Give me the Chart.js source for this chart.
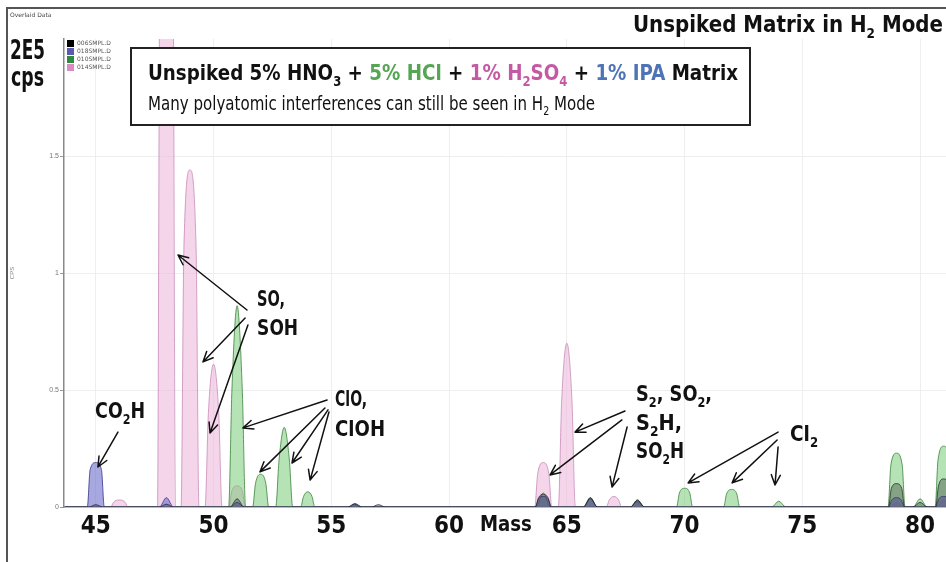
<!DOCTYPE html>
<html><head><meta charset="utf-8">
<script src="https://cdn.jsdelivr.net/npm/chart.js@4/dist/chart.umd.min.js"></script>
<style>html,body{margin:0;padding:0;background:#fff;overflow:hidden}canvas{display:block}</style>
</head><body>
<canvas id="c" width="946" height="562"></canvas>
<script>
// ---------- data (mass in amu, intensity in 1E5 cps) ----------
const seriesLabels = ['006SMPL.D','018SMPL.D','010SMPL.D','014SMPL.D'];
const xTicks = [45,50,55,60,65,70,75,80];
const yTicks = [0,0.5,1,1.5];

const blackMass = [43.7, 44.7,45,45.3, 47.7,48,48.3, 50.7,51,51.3, 55.7,56,56.3, 56.7,57,57.3, 63.66,63.8,64,64.2,64.34, 65.7,66,66.3, 67.7,68,68.3, 78.66,78.78,79,79.22,79.34, 79.7,80,80.3, 80.66,80.78,81,81.22,81.34];
const blackCps  = [0, 0,0.01,0, 0,0.012,0, 0,0.035,0, 0,0.015,0, 0,0.01,0, 0,0.04,0.055,0.04,0, 0,0.04,0, 0,0.03,0, 0,0.08,0.1,0.08,0, 0,0.02,0, 0,0.09,0.12,0.09,0];

const blueMass = [43.7, 44.64,44.76,45,45.24,45.36, 47.7,48,48.3, 50.7,51,51.3, 55.7,56,56.3, 63.66,63.8,64,64.2,64.34, 65.7,66,66.3, 67.7,68,68.3, 78.66,78.8,79,79.2,79.34, 80.66,80.8,81,81.2,81.34];
const blueCps  = [0, 0,0.16,0.19,0.16,0, 0,0.04,0, 0,0.02,0, 0,0.012,0, 0,0.035,0.045,0.035,0, 0,0.035,0, 0,0.025,0, 0,0.03,0.04,0.03,0, 0,0.035,0.045,0.035,0];

const greenMass = [43.7, 50.64,50.78,51,51.22,51.36, 51.66,51.78,52,52.22,52.34, 52.64,52.78,53,53.22,53.36, 53.7,53.82,54,54.18,54.3, 55.8,56,56.2, 63.7,64,64.3, 65.7,66,66.3, 67.7,68,68.3, 69.66,69.78,70,70.22,70.34, 71.66,71.78,72,72.22,72.34, 73.7,74,74.3, 78.64,78.76,79,79.24,79.36, 79.7,80,80.3, 80.64,80.76,81,81.24,81.36];
const greenCps  = [0, 0,0.5,0.86,0.5,0, 0,0.1,0.14,0.1,0, 0,0.2,0.34,0.2,0, 0,0.045,0.065,0.045,0, 0,0.01,0, 0,0.06,0, 0,0.04,0, 0,0.03,0, 0,0.06,0.08,0.06,0, 0,0.055,0.075,0.055,0, 0,0.025,0, 0,0.18,0.23,0.18,0, 0,0.035,0, 0,0.2,0.26,0.2,0];

const pinkMass = [43.7, 45.64,45.75,46,46.25,46.36, 47.62,47.72,48,48.28,48.38, 48.62,48.74,49,49.26,49.38, 49.64,49.78,50,50.22,50.36, 50.66,50.78,51,51.22,51.34, 63.64,63.76,64,64.24,64.36, 64.64,64.78,65,65.22,65.36, 66.68,66.8,67,67.2,67.32, 67.7,68,68.3, 78.7,79,79.3, 80.7,81,81.3];
const pinkCps  = [0, 0,0.02,0.03,0.02,0, 0,2.3,2.6,2.3,0, 0,1.1,1.44,1.1,0, 0,0.4,0.61,0.4,0, 0,0.07,0.09,0.07,0, 0,0.14,0.19,0.14,0, 0,0.45,0.70,0.45,0, 0,0.03,0.045,0.03,0, 0,0.02,0, 0,0.02,0, 0,0.03,0];

// annotation labels (text segments, [text, isSubscript]) anchored in data units
const noteLabels = [
  {segs:[['CO'],['2',1],['H']], m:44.97, c:0.415, w:50},
  {segs:[['SO,']], m:51.85, c:0.893, w:28},
  {segs:[['SOH']], m:51.85, c:0.769, w:41},
  {segs:[['ClO,']], m:55.16, c:0.466, w:32},
  {segs:[['ClOH']], m:55.16, c:0.338, w:50},
  {segs:[['S'],['2',1],[', SO'],['2',1],[',']], m:67.94, c:0.487, w:76},
  {segs:[['S'],['2',1],['H,']], m:67.94, c:0.363, w:46},
  {segs:[['SO'],['2',1],['H']], m:67.94, c:0.244, w:48},
  {segs:[['Cl'],['2',1]], m:74.48, c:0.316, w:28},
  {segs:[['Mass']], m:61.31, c:-0.068, w:52}
];
// arrows: [tailMass, tailCps, headMass, headCps]
const noteArrows = [
  [45.94,0.32,45.09,0.171],
  [51.42,0.842,48.49,1.077],
  [51.34,0.808,49.55,0.62],
  [51.46,0.778,49.85,0.316],
  [54.82,0.457,51.25,0.338],
  [54.73,0.423,51.97,0.15],
  [54.86,0.415,53.33,0.188],
  [54.9,0.406,54.1,0.115],
  [67.47,0.41,65.35,0.32],
  [67.34,0.372,64.29,0.137],
  [67.56,0.342,66.92,0.085],
  [73.97,0.32,70.15,0.103],
  [73.93,0.286,72.02,0.103],
  [73.97,0.256,73.84,0.094]
];

// ---------- styling ----------
const NARROW = "'Liberation Sans Narrow','DejaVu Sans Condensed','Arial Narrow',sans-serif";
const fills   = ['rgba(40,40,40,0.35)','rgba(110,110,205,0.6)','rgba(110,200,110,0.5)','rgba(236,185,220,0.6)'];
const borders = ['rgba(30,30,30,0.7)','rgba(70,70,150,0.9)','rgba(60,130,60,0.8)','rgba(200,140,185,0.8)'];
const swatch  = ['#000000','#5a5ab4','#2e8b3e','#d98cc4'];

function pts(ms, cs){ return ms.map((m,i)=>({x:m, y:cs[i]})); }
const seriesData = [pts(blackMass,blackCps), pts(blueMass,blueCps), pts(greenMass,greenCps), pts(pinkMass,pinkCps)];

function segFont(size, weight, sub){ return `${weight} ${sub ? Math.round(size*0.62) : size}px ${NARROW}`; }
function richWidth(ctx, segs, size, weight){
  let w = 0;
  for (const s of segs){ ctx.font = segFont(size, weight, s[1]); w += ctx.measureText(s[0]).width; }
  return w;
}
function drawRich(ctx, segs, x, baseline, size, weight, targetW, align, defColor){
  const w = richWidth(ctx, segs, size, weight);
  const sx = targetW ? targetW / w : 1;
  ctx.save();
  const sx0 = align === 'right' ? x - w*sx : x;
  ctx.translate(sx0, baseline);
  ctx.scale(sx, 1);
  ctx.textBaseline = 'alphabetic';
  ctx.textAlign = 'left';
  let cx = 0;
  for (const s of segs){
    ctx.font = segFont(size, weight, s[1]);
    ctx.fillStyle = s[2] || defColor || '#111';
    ctx.fillText(s[0], cx, s[1] ? size*0.28 : 0);
    cx += ctx.measureText(s[0]).width;
  }
  ctx.restore();
}
function arrow(ctx, x1, y1, x2, y2){
  const a = Math.atan2(y2-y1, x2-x1), L = 11, h = 0.42;
  ctx.beginPath();
  ctx.moveTo(x1,y1); ctx.lineTo(x2,y2);
  ctx.moveTo(x2 - L*Math.cos(a-h), y2 - L*Math.sin(a-h));
  ctx.lineTo(x2,y2);
  ctx.lineTo(x2 - L*Math.cos(a+h), y2 - L*Math.sin(a+h));
  ctx.stroke();
}

const overlay = {
  id:'overlay',
  afterDraw(chart){
    const ctx = chart.ctx, xs = chart.scales.x, ys = chart.scales.y;
    ctx.save();
    // outer frame
    ctx.strokeStyle = '#555'; ctx.lineWidth = 2;
    ctx.beginPath(); ctx.moveTo(7, 562); ctx.lineTo(7, 8); ctx.lineTo(946, 8); ctx.stroke();
    // small texts
    ctx.fillStyle = '#444'; ctx.font = '6px "DejaVu Sans",sans-serif'; ctx.textBaseline='middle';
    ctx.fillText('Overlaid Data', 10, 15);
    // legend
    seriesLabels.forEach((lab,i)=>{
      const y = 43 + i*8;
      ctx.fillStyle = swatch[i]; ctx.fillRect(67, y-3, 7, 7);
      ctx.fillStyle = '#555'; ctx.font = '6px "DejaVu Sans",sans-serif';
      ctx.fillText(lab, 77, y+0.5);
    });
    // 2E5 / cps
    drawRich(ctx, [['2E5']], 10, 59, 26, 'bold', 35, 'left');
    drawRich(ctx, [['cps']], 11, 86, 26, 'bold', 33, 'left');
    // title
    drawRich(ctx, [['Unspiked Matrix in H'],['2',1],[' Mode']], 943, 32, 23, 'bold', 310, 'right');
    // box
    ctx.fillStyle = '#fff'; ctx.fillRect(131, 48, 619, 77);
    ctx.strokeStyle = '#222'; ctx.lineWidth = 2; ctx.strokeRect(131, 48, 619, 77);
    const G = '#55a555', P = '#c45aa3', B = '#4f74b5';
    drawRich(ctx, [['Unspiked 5% HNO'],['3',1],[' + '],['5% HCl',0,G],[' + '],['1% H',0,P],['2',1,P],['SO',0,P],['4',1,P],[' + '],['1% IPA',0,B],[' Matrix']],
      148, 80, 22, 'bold', 590, 'left');
    drawRich(ctx, [['Many polyatomic interferences can still be seen in H'],['2',1],[' Mode']], 148, 110, 19, 'normal', 447, 'left');
    // annotations
    for (const n of noteLabels){
      const x = xs.getPixelForValue(n.m), y = ys.getPixelForValue(n.c);
      drawRich(ctx, n.segs, x, y + 8, 22, 'bold', n.w, 'left');
    }
    ctx.strokeStyle = '#111'; ctx.lineWidth = 1.5; ctx.lineCap='round'; ctx.lineJoin='round';
    for (const a of noteArrows){
      arrow(ctx, xs.getPixelForValue(a[0]), ys.getPixelForValue(a[1]), xs.getPixelForValue(a[2]), ys.getPixelForValue(a[3]));
    }
    ctx.restore();
  }
};

new Chart(document.getElementById('c'), {
  type:'line',
  data:{
    datasets: seriesLabels.map((lab,i)=>({
      label: lab,
      data: seriesData[i],
      backgroundColor: fills[i],
      borderColor: borders[i],
      borderWidth: 1,
      fill: 'origin',
      pointRadius: 0,
      cubicInterpolationMode: 'monotone'
    }))
  },
  options:{
    responsive:false,
    animation:false,
    layout:{padding:{top:39,left:0,right:0,bottom:0}},
    plugins:{legend:{display:false}, tooltip:{enabled:false}},
    scales:{
      x:{
        type:'linear', min:43.65, max:81.1,
        afterBuildTicks(s){ s.ticks = xTicks.map(v=>({value:v})); },
        afterFit(s){ s.height = 55; },
        grid:{color:'#eeeeee', drawTicks:false},
        border:{color:'#8a8a8a', width:1.5},
        ticks:{padding:5, color:'#111', font:{family:NARROW, size:24, weight:'bold'}, maxRotation:0, autoSkip:false,
               callback:v=>String(v)}
      },
      y:{
        min:0, max:2,
        afterBuildTicks(s){ s.ticks = yTicks.map(v=>({value:v})); },
        afterFit(s){ s.width = 64; },
        grid:{color:'#eeeeee', tickLength:4, tickColor:'#999'},
        border:{color:'#8a8a8a', width:1.5},
        title:{display:true, text:'CPS', color:'#888', font:{size:6}, padding:{top:9,bottom:0}},
        ticks:{padding:1, color:'#777', font:{size:7}, callback:v=>String(v)}
      }
    }
  },
  plugins:[overlay]
});
</script>
</body></html>
